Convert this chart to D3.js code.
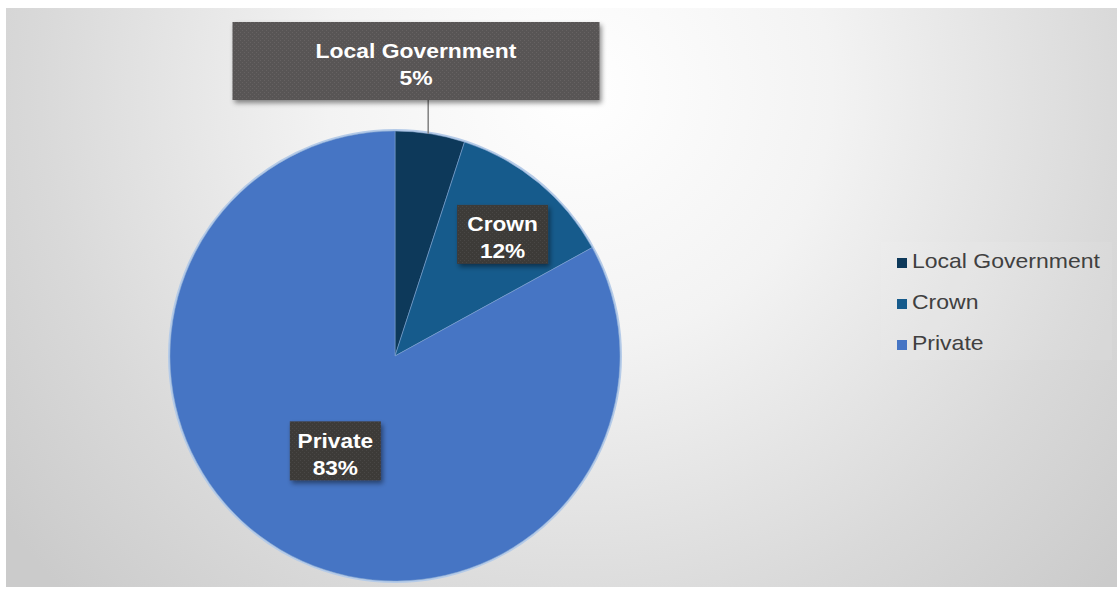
<!DOCTYPE html>
<html>
<head>
<meta charset="utf-8">
<script src="https://cdn.jsdelivr.net/npm/d3@7/dist/d3.min.js"></script>
<style>
  html, body { margin: 0; padding: 0; background: #ffffff; }
  svg { display: block; }
</style>
</head>
<body>
<svg id="chart" width="1117" height="593"></svg>
<script>
// Land ownership shares
const categories = ["Local Government", "Crown", "Private"];
const values = [5, 12, 83];
const percentLabels = ["5%", "12%", "83%"];
const sliceColors = ["#0d395a", "#165b8c", "#4675c4"];

const W = 1117, H = 593;
const svg = d3.select("#chart");
const defs = svg.append("defs");

// Soft radial backdrop
const bg = defs.append("radialGradient")
  .attr("id", "bgGrad")
  .attr("gradientUnits", "userSpaceOnUse")
  .attr("cx", 580).attr("cy", 90).attr("r", 720);
[[0, "#ffffff"], [0.35, "#f3f3f3"], [0.75, "#d9d9d9"], [1, "#cbcbcb"]]
  .forEach(([o, c]) => bg.append("stop").attr("offset", o).attr("stop-color", c));

// Textured fill for the data-label boxes
function texture(id, base, dot) {
  const p = defs.append("pattern").attr("id", id)
    .attr("width", 4).attr("height", 4).attr("patternUnits", "userSpaceOnUse");
  p.append("rect").attr("width", 4).attr("height", 4).attr("fill", base);
  p.append("rect").attr("x", 0).attr("y", 0).attr("width", 1).attr("height", 1).attr("fill", dot);
  p.append("rect").attr("x", 2).attr("y", 2).attr("width", 1).attr("height", 1).attr("fill", dot);
}
texture("texLight", "#585454", "#666262");
texture("texDark", "#3d3a39", "#4a4645");

const shadow = defs.append("filter").attr("id", "boxShadow")
  .attr("x", "-20%").attr("y", "-30%").attr("width", "140%").attr("height", "160%");
shadow.append("feDropShadow").attr("dx", 2).attr("dy", 3)
  .attr("stdDeviation", 2.5).attr("flood-color", "#000").attr("flood-opacity", 0.45);

svg.append("rect")
  .attr("x", 6).attr("y", 8).attr("width", W - 6).attr("height", 579)
  .attr("fill", "url(#bgGrad)");

// Pie
const cx = 395, cy = 356, R = 225;
const data = categories.map((c, i) => ({ name: c, value: values[i], label: percentLabels[i], color: sliceColors[i] }));
const pie = d3.pie().value(d => d.value).sort(null);
const arcs = pie(data);
const arc = d3.arc().innerRadius(0).outerRadius(R);

const g = svg.append("g").attr("transform", `translate(${cx},${cy})`);

g.append("circle").attr("r", R + 1).attr("fill", "none")
  .attr("stroke", "#b5cbe8").attr("stroke-width", 2);

g.selectAll("path.slice").data(arcs).join("path")
  .attr("class", "slice")
  .attr("d", arc)
  .attr("fill", d => d.data.color)
  .attr("stroke", "#7fa3d2")
  .attr("stroke-width", 0.8)
  .attr("stroke-opacity", 0.7);

// Data labels
const FONT = "'Liberation Sans', Arial, sans-serif";
function labelBox(parent, x, yTop, w, h, fill, name, pct, sx) {
  const lg = parent.append("g");
  lg.append("rect")
    .attr("x", x - w / 2).attr("y", yTop).attr("width", w).attr("height", h)
    .attr("fill", fill).attr("filter", "url(#boxShadow)");
  const t = lg.append("g").attr("transform", `translate(${x},0) scale(${sx},1)`);
  const lines = [name, pct];
  lines.forEach((s, i) => {
    t.append("text")
      .attr("x", 0)
      .attr("y", yTop + h / 2 - 3 + i * 27)
      .attr("text-anchor", "middle")
      .attr("font-family", FONT)
      .attr("font-weight", "bold")
      .attr("font-size", 21)
      .attr("fill", "#ffffff")
      .text(s);
  });
}

// Outside label with leader line for the small slice
const lgArc = arcs[0];
const mid0 = (lgArc.startAngle + lgArc.endAngle) / 2;
const edgeX = cx + Math.sin(mid0) * R;
const edgeY = cy - Math.cos(mid0) * R;
const topBox = { x: 416, y: 22, w: 367, h: 78 };
svg.append("line")
  .attr("x1", edgeX - 2).attr("y1", topBox.y + topBox.h)
  .attr("x2", edgeX - 2).attr("y2", edgeY)
  .attr("stroke", "#7f7f7f").attr("stroke-width", 1.5);
labelBox(svg, topBox.x, topBox.y, topBox.w, topBox.h, "url(#texLight)",
  lgArc.data.name, lgArc.data.label, 1.09);

// Inside labels placed along each slice's bisector
const insideRadius = { "Crown": 0.72 * R, "Private": 0.5 * R };
arcs.slice(1).forEach(a => {
  const r = insideRadius[a.data.name];
  const mid = (a.startAngle + a.endAngle) / 2 + (a.data.name === "Crown" ? 0.035 : 0.025);
  const lx = cx + Math.sin(mid) * r;
  const ly = cy - Math.cos(mid) * r;
  labelBox(svg, lx, ly - 30, 91, 59, "url(#texDark)", a.data.name, a.data.label, 1.08);
});

// Legend
const legend = svg.append("g");
legend.append("rect")
  .attr("x", 881).attr("y", 242).attr("width", 231).attr("height", 118)
  .attr("fill", "#ffffff").attr("fill-opacity", 0.07);
const rowY = d3.scalePoint().domain(categories).range([268, 350]);
categories.forEach((c, i) => {
  const y = rowY(c);
  legend.append("rect")
    .attr("x", 897).attr("y", y - 10).attr("width", 10).attr("height", 10)
    .attr("fill", sliceColors[i]);
  legend.append("g")
    .attr("transform", `translate(912,${y}) scale(1.15,1)`)
    .append("text")
    .attr("x", 0).attr("y", 0)
    .attr("font-family", FONT)
    .attr("font-size", 20)
    .attr("fill", "#404040")
    .text(c);
});
</script>
</body>
</html>
